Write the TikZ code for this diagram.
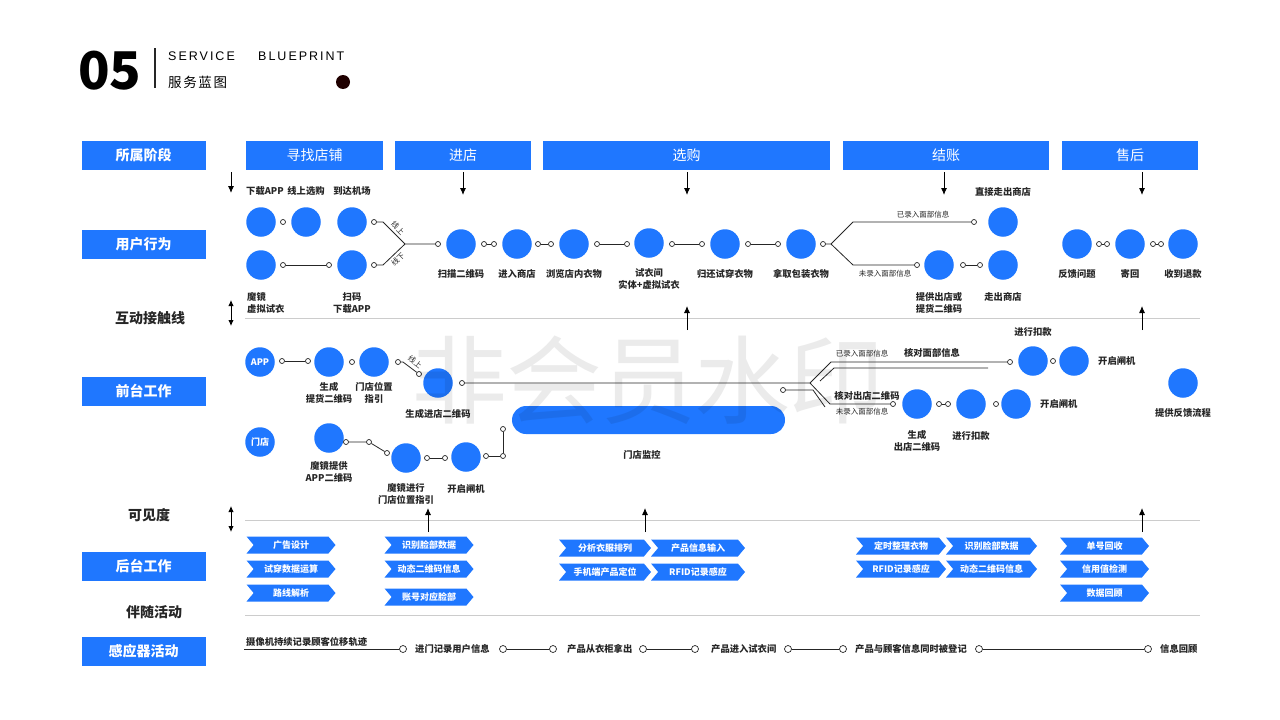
\documentclass[tikz,border=0pt]{standalone}
\usepackage{fontspec}
\setmainfont{Noto Sans CJK SC}
\newfontfamily\latinfont{Liberation Sans}[LetterSpace=16]
\usetikzlibrary{arrows.meta, positioning, shapes.symbols}
\definecolor{bpblue}{RGB}{31,119,255}
\definecolor{inkgray}{RGB}{38,38,38}

\begin{document}
\begin{tikzpicture}[x=1pt,y=-1pt,
  bub/.style={circle,fill=bpblue,minimum size=29.5pt,inner sep=0pt,text=white,font=\fontsize{9}{10}\selectfont\bfseries},
  dot/.style={circle,draw=inkgray,fill=white,line width=0.7pt,minimum size=5pt,inner sep=0pt},
  sdot/.style={dot,minimum size=7pt},
  lab/.style={font=\fontsize{9.3}{12.5}\selectfont\bfseries,text=inkgray,align=center,inner sep=0pt},
  tinylab/.style={font=\fontsize{7.5}{9}\selectfont,text=inkgray,inner sep=0pt},
  rowbox/.style={fill=bpblue,text=white,minimum width=124pt,minimum height=29pt,inner sep=0pt,font=\fontsize{14}{16}\selectfont\bfseries},
  rowtxt/.style={text=inkgray,inner sep=0pt,font=\fontsize{14}{16}\selectfont\bfseries},
  stagebox/.style={fill=bpblue,text=white,minimum height=29pt,inner sep=0pt,font=\fontsize{14}{16}\selectfont},
  chev/.style={signal,signal from=west,signal to=east,signal pointer angle=100,fill=bpblue,text=white,minimum width=89pt,minimum height=17pt,inner sep=0pt,font=\fontsize{9}{10}\selectfont\bfseries},
  link/.style={draw=inkgray,line width=0.8pt},
  guide/.style={draw=black!20,line width=1pt},
  arr/.style={-{Latex[length=7pt,width=6pt]},line width=0.9pt},
  darr/.style={{Latex[length=6pt,width=5.5pt]}-{Latex[length=6pt,width=5.5pt]},line width=0.9pt}]
  \useasboundingbox (0,0) rectangle (1280,720);

  % Header
  \node[anchor=west,inner sep=0pt,font=\fontsize{52}{52}\selectfont\bfseries] (num) at (78,71) {05};
  \draw[inkgray,line width=1.5pt] (155,48) -- (155,88);
  \node[anchor=west,inner sep=0pt,font=\latinfont\fontsize{12.5}{14}\selectfont] (ttlA) at (168,56) {SERVICE};
  \node[anchor=west,inner sep=0pt,font=\latinfont\fontsize{12.5}{14}\selectfont] (ttlB) at (258,56) {BLUEPRINT};
  \node[anchor=west,inner sep=0pt,font=\fontsize{13.5}{15}\selectfont\addfontfeatures{LetterSpace=12}] (ttlC) at (168,82) {服务蓝图};
  \fill[black!88!red] (343,82) circle (7);

  % Row labels
  \node[rowbox] (lbStage) at (143.5,155.5) {所属阶段};
  \node[rowbox] (lbUser) at (143.5,244.5) {用户行为};
  \node[rowtxt] (lbTouch) at (150,318) {互动接触线};
  \node[rowbox] (lbFront) at (143.5,391) {前台工作};
  \node[rowtxt] (lbSee) at (149,515) {可见度};
  \node[rowbox] (lbBack) at (143.5,566) {后台工作};
  \node[rowtxt] (lbWith) at (154,612) {伴随活动};
  \node[rowbox] (lbSensor) at (143.5,651) {感应器活动};

  % Stages
  \node[stagebox,minimum width=137pt] (stFind) at (314.5,155.5) {寻找店铺};
  \node[stagebox,minimum width=136pt] (stIn) at (463,155.5) {进店};
  \node[stagebox,minimum width=287pt] (stBuy) at (686.5,155.5) {选购};
  \node[stagebox,minimum width=206pt] (stPay) at (946,155.5) {结账};
  \node[stagebox,minimum width=136pt] (stAfter) at (1130,155.5) {售后};

  % Guide lines and arrows
  \draw[guide] (245,318) -- (1200,318);
  \draw[guide] (245,520) -- (1200,520);
  \draw[guide] (245,615) -- (1200,615);
  \draw[arr] (231,172) -- (231,193);
  \draw[darr] (231,300) -- (231,326);
  \draw[darr] (231,506) -- (231,532);
  \foreach \x in {463,687,944,1142}
    \draw[arr] (\x,172) -- (\x,195);
  \foreach \x in {687,1142}
    \draw[arr] (\x,330) -- (\x,306);
  \foreach \x in {428,645,1142}
    \draw[arr] (\x,532) -- (\x,508);

  % User behaviour
  \node[bub] (u1) at (261,222) {};
  \node[bub] (u2) at (306,222) {};
  \node[bub] (u3) at (352,222) {};
  \node[bub] (u4) at (261,265) {};
  \node[bub] (u5) at (352,265) {};
  \node[bub] (uScan) at (461,244) {};
  \node[bub] (uEnter) at (517,244) {};
  \node[bub] (uBrowse) at (574,244) {};
  \node[bub] (uFit) at (649,243) {};
  \node[bub] (uReturn) at (725,244) {};
  \node[bub] (uTake) at (801,244) {};
  \node[bub] (uDirect) at (1003,222) {};
  \node[bub] (uGive) at (939,265) {};
  \node[bub] (uExit) at (1003,265) {};
  \node[bub] (uFb) at (1077,244) {};
  \node[bub] (uSend) at (1130,244) {};
  \node[bub] (uRefund) at (1183,244) {};

  \node[dot] (d1) at (283,222) {};
  \node[dot] (d2) at (283,265) {};
  \node[dot] (d3) at (329,265) {};
  \node[dot] (d4) at (374,222) {};
  \node[dot] (d5) at (374,265) {};
  \node[dot] (d6) at (438,244) {};
  \node[dot] (d7) at (484,244) {};
  \node[dot] (d8) at (494,244) {};
  \node[dot] (d9) at (538,244) {};
  \node[dot] (d10) at (551,244) {};
  \node[dot] (d11) at (597,244) {};
  \node[dot] (d12) at (627,244) {};
  \node[dot] (d13) at (672,244) {};
  \node[dot] (d14) at (702,244) {};
  \node[dot] (d15) at (748,244) {};
  \node[dot] (d16) at (778,244) {};
  \node[dot] (d17) at (823,244) {};
  \node[dot] (d18) at (974,222) {};
  \node[dot] (d19) at (917,265) {};
  \node[dot] (d20) at (963,265) {};
  \node[dot] (d21) at (980,265) {};
  \node[dot] (d22) at (1099,244) {};
  \node[dot] (d23) at (1107,244) {};
  \node[dot] (d24) at (1153,244) {};
  \node[dot] (d25) at (1161,244) {};
  \coordinate (jOn) at (383,222);
  \coordinate (jOff) at (383,265);
  \coordinate (jMeet) at (405,244);
  \coordinate (jPay) at (831,244);
  \coordinate (jHas) at (853,222);
  \coordinate (jNot) at (853,265);

  \draw[link] (d2) -- (d3);
  \draw[link] (d4) -- (jOn) -- (jMeet) -- (d6);
  \draw[link] (d5) -- (jOff) -- (jMeet);
  \draw[link] (d7) -- (d8);
  \draw[link] (d9) -- (d10);
  \draw[link] (d11) -- (d12);
  \draw[link] (d13) -- (d14);
  \draw[link] (d15) -- (d16);
  \draw[link] (d17) -- (jPay) -- (jHas) -- (d18);
  \draw[link] (jPay) -- (jNot) -- (d19);
  \draw[link] (d20) -- (d21);
  \draw[link] (d22) -- (d23);
  \draw[link] (d24) -- (d25);

  \node[lab] (tDown) at (265,191) {下载APP};
  \node[lab] (tOnline) at (306,191) {线上选购};
  \node[lab] (tArrive) at (352,191) {到达机场};
  \node[lab,anchor=north west,align=left] (tMirror) at (247,292) {魔镜\\虚拟试衣};
  \node[lab,anchor=north] (tScanApp) at (352,292) {扫码\\下载APP};
  \node[tinylab,rotate=-45] (tOn) at (398,228) {线上};
  \node[tinylab,rotate=45] (tOff) at (398,259) {线下};
  \node[lab] (tScan) at (461,274) {扫描二维码};
  \node[lab] (tEnter) at (517,274) {进入商店};
  \node[lab] (tBrowse) at (574,274) {浏览店内衣物};
  \node[lab,anchor=north] (tFit) at (649,268) {试衣间\\实体+虚拟试衣};
  \node[lab] (tReturn) at (725,274) {归还试穿衣物};
  \node[lab] (tTake) at (801,274) {拿取包装衣物};
  \node[lab] (tDirect) at (1003,192) {直接走出商店};
  \node[tinylab] (tHas) at (923,215) {已录入面部信息};
  \node[tinylab] (tNot) at (885,274) {未录入面部信息};
  \node[lab,anchor=north] (tGive) at (939,292) {提供出店或\\提货二维码};
  \node[lab] (tExit) at (1003,297) {走出商店};
  \node[lab] (tFb) at (1077,274) {反馈问题};
  \node[lab] (tSend) at (1130,274) {寄回};
  \node[lab] (tRefund) at (1183,274) {收到退款};

  % Front stage
  \node[bub] (fApp) at (260,362) {APP};
  \node[bub] (fQr) at (329,362) {};
  \node[bub] (fGuide) at (374,362) {};
  \node[bub] (fEntry) at (438,383) {};
  \node[bub] (fStore) at (260,442) {门店};
  \node[bub] (fMirror) at (329,438) {};
  \node[bub] (fMirGuide) at (406,458) {};
  \node[bub] (fGate) at (466,457) {};
  \node[fill=bpblue,rounded corners=14pt,minimum width=273pt,minimum height=28pt,inner sep=0pt] (fBar) at (648.5,420) {};
  \node[bub] (fPay) at (1033,361) {};
  \node[bub] (fOpen) at (1074,361) {};
  \node[bub] (fFb) at (1183,383) {};
  \node[bub] (fOut) at (917,404) {};
  \node[bub] (fPay2) at (971,404) {};
  \node[bub] (fOpen2) at (1016,404) {};

  \node[dot] (e1) at (282,361) {};
  \node[dot] (e2) at (308,361) {};
  \node[dot] (e3) at (352,362) {};
  \node[dot] (e4) at (398,362) {};
  \node[dot] (e5) at (419,374) {};
  \node[dot] (e6) at (462,383) {};
  \node[dot] (e7) at (346,442) {};
  \node[dot] (e8) at (369,442) {};
  \node[dot] (e9) at (387,453) {};
  \node[dot] (e10) at (427,458) {};
  \node[dot] (e11) at (445,458) {};
  \node[dot] (e12) at (486,456) {};
  \node[dot] (e13) at (503,456) {};
  \node[dot] (e14) at (503,429) {};
  \node[dot] (e15) at (783,390) {};
  \node[dot] (e16) at (1010,362) {};
  \node[dot] (e17) at (893,404) {};
  \node[dot] (e18) at (1053,361) {};
  \node[dot] (e19) at (939,404) {};
  \node[dot] (e20) at (948,404) {};
  \node[dot] (e21) at (996,404) {};
  \coordinate (kOn) at (403,362);
  \coordinate (kA) at (810,383);
  \coordinate (kAup) at (831,362);
  \coordinate (kAdn) at (830,404);
  \coordinate (kB) at (813,390);
  \coordinate (kBdn) at (825,407);
  \coordinate (kC) at (820,381);
  \coordinate (kCup) at (834,368);
  \coordinate (kCend) at (988,368);

  \draw[link] (e1) -- (e2);
  \draw[link] (e4) -- (kOn) -- (e5);
  \draw[link] (e6) -- (kA) -- (kAup) -- (e16);
  \draw[link] (kA) -- (kAdn) -- (e17);
  \draw[link] (e15) -- (kB) -- (kBdn);
  \draw[link] (kC) -- (kCup) -- (kCend);
  \draw[link] (e7) -- (e8) -- (e9);
  \draw[link] (e10) -- (e11);
  \draw[link] (e12) -- (e13) -- (e14);
  \draw[link] (e19) -- (e20);

  \node[tinylab,rotate=-37] (tOn2) at (415,362) {线上};
  \node[lab,anchor=north] (tQr) at (329,382) {生成\\提货二维码};
  \node[lab,anchor=north] (tGuide) at (374,382) {门店位置\\指引};
  \node[lab] (tEntry) at (438,414) {生成进店二维码};
  \node[lab,anchor=north] (tMirror2) at (329,461) {魔镜提供\\APP二维码};
  \node[lab,anchor=north] (tMirGuide) at (406,483) {魔镜进行\\门店位置指引};
  \node[lab] (tGate) at (466,489) {开启闸机};
  \node[lab] (tBar) at (642,455) {门店监控};
  \node[tinylab] (tHas2) at (862,354) {已录入面部信息};
  \node[lab] (tFace) at (932,353) {核对面部信息};
  \node[lab] (tOutQr) at (867,396) {核对出店二维码};
  \node[tinylab] (tNot2) at (862,412) {未录入面部信息};
  \node[lab] (tPay) at (1033,332) {进行扣款};
  \node[lab,anchor=west] (tOpen) at (1098,361) {开启闸机};
  \node[lab] (tFb2) at (1183,413) {提供反馈流程};
  \node[lab,anchor=north] (tOut) at (917,430) {生成\\出店二维码};
  \node[lab] (tPay2) at (971,436) {进行扣款};
  \node[lab,anchor=west] (tOpen2) at (1040,404) {开启闸机};

  % Back stage
  \node[chev] (b1) at (291,545) {广告设计};
  \node[chev] (b2) at (291,569) {试穿数据运算};
  \node[chev] (b3) at (291,593) {路线解析};
  \node[chev] (b4) at (429,545) {识别脸部数据};
  \node[chev] (b5) at (429,569) {动态二维码信息};
  \node[chev] (b6) at (429,597) {账号对应脸部};
  \node[chev,minimum width=92pt] (b7) at (605,548) {分析衣服排列};
  \node[chev,minimum width=92pt] (b8) at (605,572) {手机端产品定位};
  \node[chev,minimum width=94pt] (b9) at (698,548) {产品信息输入};
  \node[chev,minimum width=94pt] (b10) at (698,572) {RFID记录感应};
  \node[chev,minimum width=90pt] (b11) at (901,546) {定时整理衣物};
  \node[chev,minimum width=90pt] (b12) at (901,569) {RFID记录感应};
  \node[chev,minimum width=91pt] (b13) at (991.5,546) {识别脸部数据};
  \node[chev,minimum width=91pt] (b14) at (991.5,569) {动态二维码信息};
  \node[chev] (b15) at (1104.5,546) {单号回收};
  \node[chev] (b16) at (1104.5,569) {信用值检测};
  \node[chev] (b17) at (1104.5,593) {数据回顾};

  % Sensor activity
  \node[lab,anchor=west] (s0) at (246,642) {摄像机持续记录顾客位移轨迹};
  \node[sdot] (g1) at (403,649) {};
  \node[lab,anchor=west] (s1) at (415,649) {进门记录用户信息};
  \node[sdot] (g2) at (503,649) {};
  \node[sdot] (g3) at (553,649) {};
  \node[lab,anchor=west] (s2) at (567,649) {产品从衣柜拿出};
  \node[sdot] (g4) at (643,649) {};
  \node[sdot] (g5) at (695,649) {};
  \node[lab,anchor=west] (s3) at (711,649) {产品进入试衣间};
  \node[sdot] (g6) at (788,649) {};
  \node[sdot] (g7) at (843,649) {};
  \node[lab,anchor=west] (s4) at (855,649) {产品与顾客信息同时被登记};
  \node[sdot] (g8) at (979,649) {};
  \node[sdot] (g9) at (1148,649) {};
  \node[lab,anchor=west] (s5) at (1160,649) {信息回顾};
  \coordinate (g0) at (244,649);
  \draw[link] (g0) -- (g1);
  \draw[link] (g2) -- (g3);
  \draw[link] (g4) -- (g5);
  \draw[link] (g6) -- (g7);
  \draw[link] (g8) -- (g9);

  % Watermark
  \node[text=black,text opacity=0.08,inner sep=0pt,font=\fontsize{96}{96}\selectfont\addfontfeatures{LetterSpace=-2}] (wm) at (648,380) {非会员水印};
\end{tikzpicture}
\end{document}
